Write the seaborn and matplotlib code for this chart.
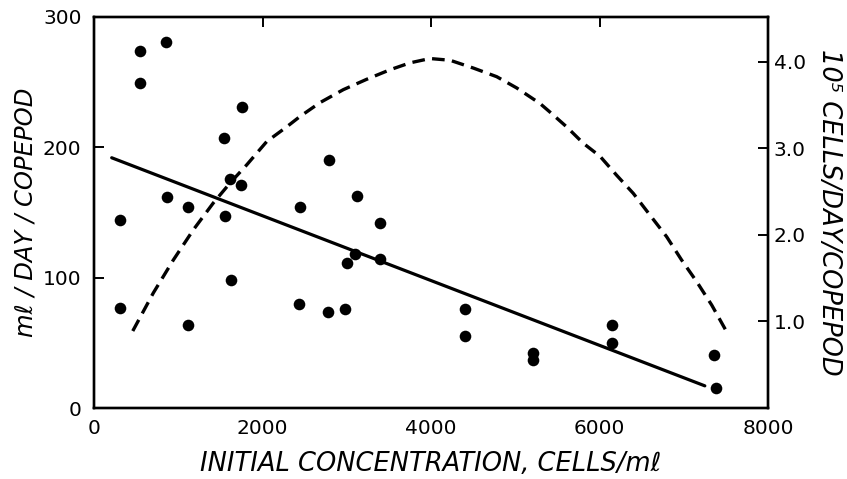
import matplotlib
matplotlib.use("Agg")
import matplotlib.pyplot as plt
import seaborn as sns
import pandas as pd

# Observed clearance rates (ml/day/copepod) vs initial concentration
conc = [310, 550, 550, 850, 870, 1110, 1540, 1560, 1620, 1740, 1760,
        2450, 2790, 3120, 3400,
        310, 1110, 1630, 2430, 2780, 2980, 3000, 3100, 3400,
        4400, 4400, 5210, 5210, 6150, 6150, 7360, 7380]
rate = [144, 274, 249, 281, 162, 154, 207, 147, 176, 171, 231,
        154, 190, 163, 142,
        77, 64, 98, 80, 74, 76, 111, 118, 114,
        76, 55, 42, 37, 64, 50, 41, 15]

# Regression line (left axis)
fit_x = [210, 7250]
fit_y = [192, 17]

# Ingestion curve (right axis, 10^5 cells/day/copepod)
ing_x = [460, 704, 941, 1179, 1416, 1614, 1812, 2050, 2287, 2445, 2682,
         2959, 3237, 3513, 3751, 3988, 4226, 4502, 4780, 5017, 5294,
         5413, 5610, 5808, 6006, 6204, 6402, 6599, 6797, 6975, 7154,
         7332, 7510]
ing_y = [0.89, 1.33, 1.71, 2.06, 2.37, 2.60, 2.81, 3.08, 3.25, 3.37, 3.53,
         3.68, 3.80, 3.91, 3.99, 4.04, 4.02, 3.93, 3.83, 3.70, 3.52,
         3.42, 3.25, 3.06, 2.91, 2.69, 2.48, 2.23, 1.98, 1.71, 1.46,
         1.19, 0.88]

x_ticks = [0, 2000, 4000, 6000, 8000]
y_ticks = [0, 100, 200, 300]
r_ticks = [1.0, 2.0, 3.0, 4.0]
r_labels = ["1.0", "2.0", "3.0", "4.0"]

sns.set_style("white")
plt.rcParams['font.family'] = ['DejaVu Sans']
plt.rcParams['text.color'] = 'black'
plt.rcParams['axes.labelcolor'] = 'black'

fig = plt.figure(figsize=(8.47, 4.79), dpi=100)
ax = fig.add_axes([94 / 847, 1 - 408 / 479, (768 - 94) / 847, (408 - 17) / 479])
ax2 = ax.twinx()

pts = pd.DataFrame({"conc": conc, "rate": rate})
sns.scatterplot(data=pts, x="conc", y="rate", ax=ax, color="black",
                s=70, edgecolor="black", linewidth=0, zorder=3)
sns.lineplot(x=fit_x, y=fit_y, ax=ax, color="black", linewidth=2.3)
sns.lineplot(x=ing_x, y=ing_y, ax=ax2, color="black", linewidth=2.4,
             linestyle=(0, (3.8, 2.2)))

ax.set_xlim(0, 8000)
ax.set_ylim(0, 300)
ax2.set_ylim(0, 4.52)

ax.set_xticks(x_ticks)
ax.set_yticks(y_ticks)
ax2.set_yticks(r_ticks)
ax2.set_yticklabels(r_labels)

for spine in list(ax.spines.values()) + list(ax2.spines.values()):
    spine.set_linewidth(1.7)
    spine.set_color("black")

ax.tick_params(axis="both", direction="in", length=7, width=1.4,
               labelsize=14.5, colors="black", top=True, right=False,
               pad=9)
ax.tick_params(axis="x", pad=8)
ax2.tick_params(axis="y", direction="in", length=7, width=1.4,
                labelsize=14.5, colors="black", pad=4)

ax.set_xlabel("INITIAL CONCENTRATION, CELLS/mℓ", fontsize=18.5,
              style="italic", labelpad=9, color="black")
ax.set_ylabel("mℓ / DAY / COPEPOD", fontsize=17.5, style="italic",
              labelpad=4, color="black")
ax2.set_ylabel("10⁵ CELLS/DAY/COPEPOD", fontsize=18.5, style="italic",
               rotation=270, labelpad=26, color="black")

fig.savefig("out.png", dpi=100)
